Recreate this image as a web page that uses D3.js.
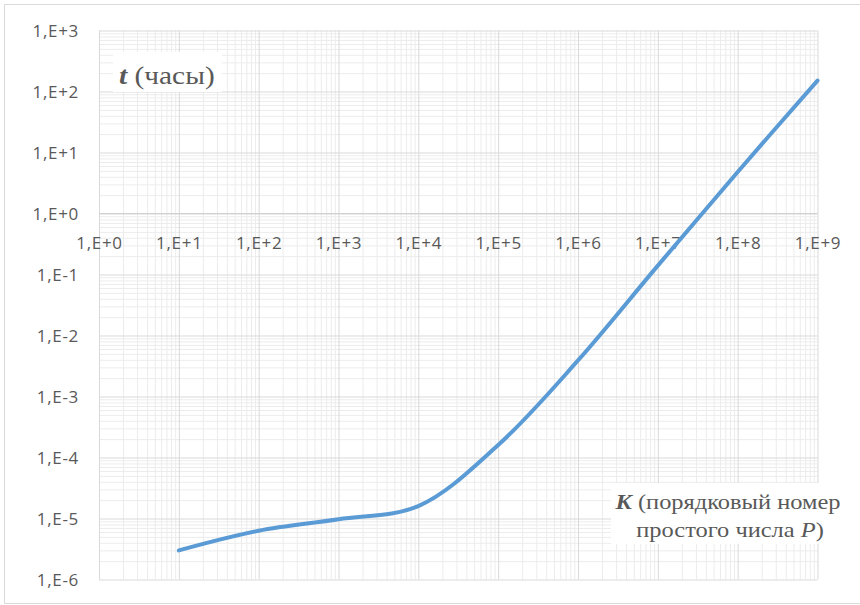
<!DOCTYPE html>
<html>
<head>
<meta charset="utf-8">
<script src="https://cdn.jsdelivr.net/npm/d3@7"></script>
<style>
  html, body { margin: 0; padding: 0; background: #ffffff; }
  svg { display: block; }
  .tick-label { font-family: "Open Sans", sans-serif; font-size: 17px; fill: #595959; letter-spacing: 0.7px; }
  .note { font-family: "Liberation Serif", "Times New Roman", serif; fill: #595959; }
</style>
</head>
<body>
<svg id="chart" width="860" height="605"></svg>
<script>
// K — ordinal number of the prime, t — computation time in hours
const kValues = [1e1, 1e2, 1e3, 1e4, 1e5, 1e6, 1e7, 1e8, 1e9];
const tValues = [3.0e-6, 6.3e-6, 9.7e-6, 1.6e-5, 1.6e-4, 3.9e-3, 0.14, 4.8, 151];

// Decade ticks and their labels
const xTicks = [1e0, 1e1, 1e2, 1e3, 1e4, 1e5, 1e6, 1e7, 1e8, 1e9];
const xTickLabels = ["1,E+0", "1,E+1", "1,E+2", "1,E+3", "1,E+4", "1,E+5", "1,E+6", "1,E+7", "1,E+8", "1,E+9"];
const yTicks = [1e-6, 1e-5, 1e-4, 1e-3, 1e-2, 1e-1, 1e0, 1e1, 1e2, 1e3];
const yTickLabels = ["1,E-6", "1,E-5", "1,E-4", "1,E-3", "1,E-2", "1,E-1", "1,E+0", "1,E+1", "1,E+2", "1,E+3"];

const svg = d3.select("#chart");
const plotLeft = 99, plotRight = 817.5, plotTop = 30.5, plotBottom = 579.5;

const x = d3.scaleLog().domain([1e0, 1e9]).range([plotLeft, plotRight]);
const y = d3.scaleLog().domain([1e-6, 1e3]).range([plotBottom, plotTop]);

// minor grid values: 2..9 within each decade
const minorOf = ticks => ticks.slice(0, -1).flatMap(d => d3.range(2, 10).map(m => m * d));
const xMinor = minorOf(xTicks);
const yMinor = minorOf(yTicks);

// outer chart frame
svg.append("rect")
  .attr("x", 4.5).attr("y", 4.5).attr("width", 870).attr("height", 599)
  .attr("fill", "#ffffff").attr("stroke", "#d9d9d9").attr("stroke-width", 1);

const grid = svg.append("g");

function gridAxis(axis, values, color, transform) {
  const g = grid.append("g").attr("transform", transform)
    .call(axis.tickValues(values).tickFormat(""));
  g.select(".domain").remove();
  g.selectAll(".tick line").attr("stroke", color).attr("stroke-width", 1);
  return g;
}

// minor then major grid lines
gridAxis(d3.axisBottom(x).tickSize(-(plotBottom - plotTop)), xMinor, "#ececec", `translate(0,${plotBottom})`);
gridAxis(d3.axisLeft(y).tickSize(-(plotRight - plotLeft)), yMinor, "#ececec", `translate(${plotLeft},0)`);
gridAxis(d3.axisBottom(x).tickSize(-(plotBottom - plotTop)), xTicks, "#d9d9d9", `translate(0,${plotBottom})`);
gridAxis(d3.axisLeft(y).tickSize(-(plotRight - plotLeft)), yTicks, "#d9d9d9", `translate(${plotLeft},0)`);

// horizontal axis line crossing at t = 1
svg.append("line")
  .attr("x1", plotLeft).attr("x2", plotRight)
  .attr("y1", y(1)).attr("y2", y(1))
  .attr("stroke", "#d0d0d0").attr("stroke-width", 1.2);

// tick labels
const yAxis = svg.append("g").attr("transform", `translate(${79},0)`)
  .call(d3.axisLeft(y).tickValues(yTicks).tickSize(0).tickPadding(0)
    .tickFormat((d, i) => yTickLabels[i]));
yAxis.select(".domain").remove();
yAxis.selectAll("text").attr("class", "tick-label").attr("dy", "0.36em");
yAxis.attr("font-size", null).attr("font-family", null);

const xAxis = svg.append("g").attr("transform", `translate(0,${y(1)})`)
  .call(d3.axisBottom(x).tickValues(xTicks).tickSize(0).tickPadding(0)
    .tickFormat((d, i) => xTickLabels[i]));
xAxis.select(".domain").remove();
xAxis.selectAll("text").attr("class", "tick-label").attr("y", 29).attr("dy", "0.36em");
xAxis.attr("font-size", null).attr("font-family", null);

// annotation boxes (serif text, slightly widened)
const tBox = svg.append("g");
tBox.append("rect").attr("x", 113).attr("y", 52).attr("width", 109).attr("height", 40).attr("fill", "#ffffff");
const tText = tBox.append("g").attr("transform", "translate(119,84) scale(1.13,1)")
  .append("text").attr("class", "note").attr("font-size", 26);
tText.append("tspan").attr("font-weight", "bold").attr("font-style", "italic").text("t");
tText.append("tspan").text(" (часы)");

const kBox = svg.append("g");
kBox.append("rect").attr("x", 611).attr("y", 483).attr("width", 236).attr("height", 61).attr("fill", "#ffffff");
const k1 = kBox.append("g").attr("transform", "translate(728,509) scale(1.11,1)")
  .append("text").attr("class", "note").attr("font-size", 22).attr("text-anchor", "middle");
k1.append("tspan").attr("font-weight", "bold").attr("font-style", "italic").text("K");
k1.append("tspan").text(" (порядковый номер");
const k2 = kBox.append("g").attr("transform", "translate(730,537) scale(1.11,1)")
  .append("text").attr("class", "note").attr("font-size", 22).attr("text-anchor", "middle");
k2.append("tspan").text("простого числа ");
k2.append("tspan").attr("font-style", "italic").text("P");
k2.append("tspan").text(")");

// smoothed series line
const line = d3.line()
  .x((d, i) => x(kValues[i]))
  .y((d, i) => y(tValues[i]))
  .curve(d3.curveCatmullRom.alpha(0.5));

svg.append("path")
  .datum(tValues)
  .attr("d", line)
  .attr("fill", "none")
  .attr("stroke", "#5b9bd5")
  .attr("stroke-width", 4)
  .attr("stroke-linecap", "round")
  .attr("stroke-linejoin", "round");
</script>
</body>
</html>
